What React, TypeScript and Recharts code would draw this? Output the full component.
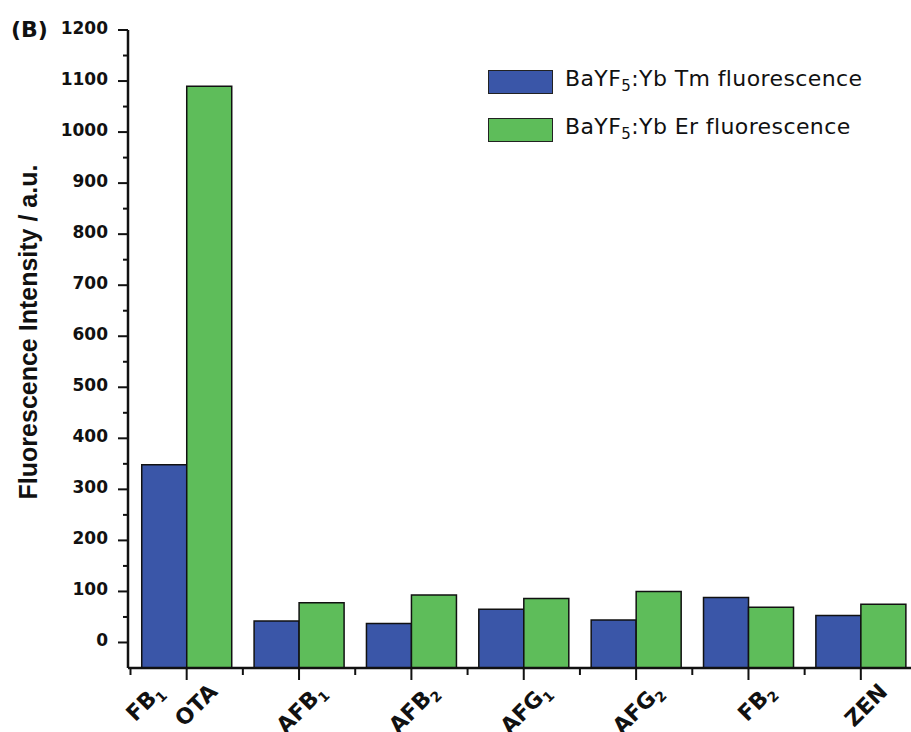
import React from "react";
import { BarChart, Bar, XAxis, YAxis } from "recharts";

// mycotoxin groups (first group carries two labels, one per bar)
const categories = ["FB1|OTA", "AFB1", "AFB2", "AFG1", "AFG2", "FB2", "ZEN"];
const tmValues = [348, 42, 37, 65, 44, 88, 53];
const erValues = [1090, 78, 93, 86, 100, 69, 75];
const seriesLabels = ["BaYF5:Yb Tm fluorescence", "BaYF5:Yb Er fluorescence"];
const yTicks = [
  0, 50, 100, 150, 200, 250, 300, 350, 400, 450, 500, 550, 600, 650, 700, 750, 800, 850, 900, 950, 1000, 1050,
  1100, 1150, 1200,
];
const Y_MIN = -50;
const Y_MAX = 1200;

const BLUE = "#3A56A8";
const GREEN = "#5EBD5A";
const seriesColors = [BLUE, GREEN];
const INK = "#111";
const FONT = "'DejaVu Sans', sans-serif";

const data = categories.map((name, i) => ({ name, tm: tmValues[i], er: erValues[i] }));

// split "AFB1" -> ["AFB", "1", ""]
function splitSub(s: string) {
  const m = s.match(/^(.*?[A-Za-z])(\d)(.*)$/);
  return m ? [m[1], m[2], m[3]] : [s, "", ""];
}

function RotLabel({ text, x, y }: { text: string; x: number; y: number }) {
  const [base, sub] = splitSub(text);
  return (
    <text
      x={x}
      y={y}
      textAnchor="end"
      transform={`rotate(-45 ${x} ${y})`}
      fontFamily={FONT}
      fontWeight="bold"
      fontSize={22}
      fill={INK}
    >
      {base}
      {sub && (
        <tspan fontSize={14} dy={5}>
          {sub}
        </tspan>
      )}
    </text>
  );
}

function XTick(props: any) {
  const { x, y, payload } = props;
  const half = payload.offset || 56;
  const parts = String(payload.value).split("|");
  const ly = y + 25;
  return (
    <g>
      <line x1={x} x2={x} y1={y} y2={y + 12} stroke={INK} strokeWidth={2} />
      <line x1={x - half} x2={x - half} y1={y} y2={y + 7} stroke={INK} strokeWidth={2} />
      {parts.length === 2 ? (
        <>
          <RotLabel text={parts[0]} x={x - 22} y={ly} />
          <RotLabel text={parts[1]} x={x + 32} y={ly} />
        </>
      ) : (
        <RotLabel text={parts[0]} x={x + 28} y={ly} />
      )}
    </g>
  );
}

function YTick(props: any) {
  const { x, y, payload } = props;
  const major = payload.value % 100 === 0;
  return (
    <g>
      <line x1={x - (major ? 10 : 5)} x2={x} y1={y} y2={y} stroke={INK} strokeWidth={2} />
      {major && (
        <text x={x - 20} y={y + 3.5} textAnchor="end" fontFamily={FONT} fontWeight="bold" fontSize={17} fill={INK}>
          {payload.value}
        </text>
      )}
    </g>
  );
}

function YTitle({ viewBox }: any) {
  const cx = viewBox.x + 37;
  const cy = viewBox.y + viewBox.height / 2 - 17;
  return (
    <text
      x={cx}
      y={cy}
      textAnchor="middle"
      transform={`rotate(-90 ${cx} ${cy})`}
      fontFamily="'Liberation Sans', Arial, sans-serif"
      fontWeight="bold"
      fontSize={25}
      fill={INK}
    >
      Fluorescence Intensity / a.u.
    </text>
  );
}

function ChartLegend() {
  return (
    <div style={{ position: "absolute", left: 488, top: 70, display: "flex", flexDirection: "column", gap: 24 }}>
      {seriesLabels.map((label, i) => {
        const [a, sub, b] = splitSub(label);
        return (
          <div key={label} style={{ display: "flex", alignItems: "center", height: 24 }}>
            <span
              style={{
                width: 65,
                height: 24,
                background: seriesColors[i],
                border: "1.5px solid #222",
                boxSizing: "border-box",
                display: "inline-block",
              }}
            />
            <span
              style={{
                marginLeft: 12,
                fontFamily: FONT,
                fontSize: 22,
                letterSpacing: 0.4,
                color: INK,
                lineHeight: "24px",
              }}
            >
              {a}
              <span style={{ fontSize: 15, verticalAlign: -5 }}>{sub}</span>
              {b}
            </span>
          </div>
        );
      })}
    </div>
  );
}

export default function App() {
  return (
    <div
      style={{
        position: "absolute",
        left: 0,
        top: 0,
        width: 911,
        height: 732,
        overflow: "hidden",
        background: "#fff",
        fontFamily: FONT,
      }}
    >
      <div
        style={{
          position: "absolute",
          left: 11,
          top: 19,
          fontSize: 22,
          lineHeight: "22px",
          fontWeight: "bold",
          color: INK,
        }}
      >
        (B)
      </div>
      <BarChart
        width={917}
        height={732}
        data={data}
        margin={{ top: 30, right: 0, bottom: 0, left: 0 }}
        barCategoryGap="10%"
        barGap={0}
      >
        <XAxis
          dataKey="name"
          height={64}
          padding={{ left: 2.5, right: 0 }}
          interval={0}
          tickLine={false}
          tickSize={0}
          tickMargin={0}
          tick={<XTick />}
          axisLine={{ stroke: INK, strokeWidth: 2.5 }}
        />
        <YAxis
          type="number"
          width={128}
          domain={[Y_MIN, Y_MAX]}
          ticks={yTicks}
          interval={0}
          allowDataOverflow
          tickLine={false}
          tickSize={0}
          tickMargin={0}
          tick={<YTick />}
          axisLine={{ stroke: INK, strokeWidth: 2.5 }}
          label={{ content: <YTitle /> }}
        />
        <Bar
          dataKey={(d: any) => [Y_MIN, d.tm]}
          name={seriesLabels[0]}
          fill={BLUE}
          stroke={INK}
          strokeWidth={1.5}
          isAnimationActive={false}
        />
        <Bar
          dataKey={(d: any) => [Y_MIN, d.er]}
          name={seriesLabels[1]}
          fill={GREEN}
          stroke={INK}
          strokeWidth={1.5}
          isAnimationActive={false}
        />
      </BarChart>
      <ChartLegend />
    </div>
  );
}
